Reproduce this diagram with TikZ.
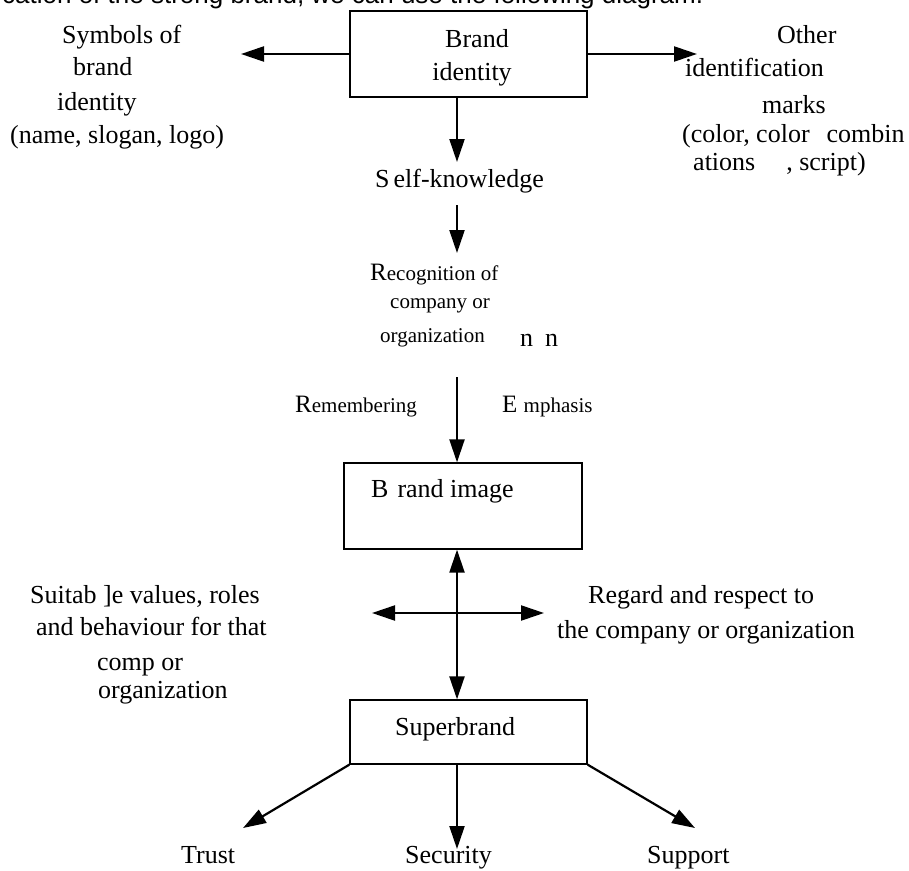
\documentclass[tikz,border=0pt]{standalone}
\usepackage{fontspec}
\setmainfont{Liberation Serif}
\newfontfamily\topsans{Liberation Sans}
\usetikzlibrary{arrows.meta}
\begin{document}
\begin{tikzpicture}[x=1pt,y=-1pt,
  txt/.style={inner sep=0pt, anchor=base west, font=\fontsize{26}{30}\selectfont},
  ctxt/.style={inner sep=0pt, anchor=base, font=\fontsize{26}{30}\selectfont},
  box/.style={draw, line width=1.3pt, inner sep=0pt},
  arr/.style={line width=2.2pt, -{Triangle[length=23pt,width=15pt]}},
  darr/.style={line width=2.2pt, {Triangle[length=23pt,width=15pt]}-{Triangle[length=23pt,width=15pt]}}]
\fill[white] (0,0) rectangle (909,870);
\useasboundingbox (0,0) rectangle (909,870);

% top sentence (cut off)
\node[txt, font=\topsans\fontsize{26}{30}\selectfont] (top) at (2,3) {cation of the strong brand, we can use the following diagram.};

% boxes
\node[box, minimum width=237pt, minimum height=86pt] (bi) at (468.5,54) {};
\node[box, minimum width=238pt, minimum height=86pt] (bimg) at (463,506) {};
\node[box, minimum width=237pt, minimum height=64pt] (sb) at (468.5,732) {};

% box texts
\node[ctxt] (bit1) at (477,47) {Brand};
\node[ctxt] (bit2) at (472,80) {identity};
\node[txt] (bimgt) at (371,497) {B\hspace{9pt}rand image};
\node[txt] (sbt) at (395,735) {Superbrand};

% left top text
\node[txt] (sy1) at (62,43) {Symbols of};
\node[txt] (sy2) at (73,75) {brand};
\node[txt] (sy3) at (57,110) {identity};
\node[txt] (sy4) at (10,143) {(name, slogan, logo)};

% right top text
\node[txt] (ot1) at (777,43) {Other};
\node[txt] (ot2) at (685,76) {identification};
\node[txt] (ot3) at (762,113) {marks};
\node[txt] (ot4) at (682,142) {(color, color\hspace{17pt}combin};
\node[txt] (ot5) at (693,170) {ations\hspace{31pt}, script)};

% middle column
\node[txt] (sk) at (375,187) {S\hspace{4pt}elf-knowledge};
\node[txt] (rec1) at (370,280) {\fontsize{25}{30}\selectfont R\fontsize{21}{25}\selectfont ecognition of};
\node[txt, font=\fontsize{21}{25}\selectfont] (rec2) at (390,308) {company or};
\node[txt, font=\fontsize{21}{25}\selectfont] (rec3) at (380,342) {organization};
\node[txt] (nn) at (520,346) {n\hspace{12pt}n};
\node[txt] (rem) at (295,412) {\fontsize{25}{30}\selectfont R\fontsize{21}{25}\selectfont emembering};
\node[txt] (emp) at (502,412) {\fontsize{25}{30}\selectfont E \fontsize{21}{25}\selectfont mphasis};

% side texts
\node[txt] (su1) at (30,603) {Suitab ]e values, roles};
\node[txt] (su2) at (36,635) {and behaviour for that};
\node[txt] (su3) at (97,670) {comp or};
\node[txt] (su4) at (98,698) {organization};
\node[txt] (rg1) at (588,603) {Regard and respect to};
\node[txt] (rg2) at (557,638) {the company or organization};

% bottom texts
\node[txt] (tr) at (181,863) {Trust};
\node[txt] (se) at (405,863) {Security};
\node[txt] (sp) at (647,863) {Support};

% coordinates
\coordinate (axis) at (457,0);
\coordinate (symtip) at (241,54);
\coordinate (othtip) at (697,54);
\coordinate (a1e) at (457,162);
\coordinate (a2s) at (457,205);
\coordinate (a2e) at (457,253);
\coordinate (a3s) at (457,377);
\coordinate (hl) at (372,613);
\coordinate (hr) at (544,613);
\coordinate (trtip) at (243,828);
\coordinate (setip) at (457,849);
\coordinate (sutip) at (695,828);

% connectors
\draw[arr] (bi.west) -- (symtip);
\draw[arr] (bi.east) -- (othtip);
\draw[arr] (bi.south -| axis) -- (a1e);
\draw[arr] (a2s) -- (a2e);
\draw[arr] (a3s) -- (bimg.north -| axis);
\draw[darr] (bimg.south -| axis) -- (sb.north -| axis);
\draw[darr] (hl) -- (hr);
\draw[arr] (sb.south west) -- (trtip);
\draw[arr] (sb.south -| axis) -- (setip);
\draw[arr] (sb.south east) -- (sutip);
\end{tikzpicture}
\end{document}
